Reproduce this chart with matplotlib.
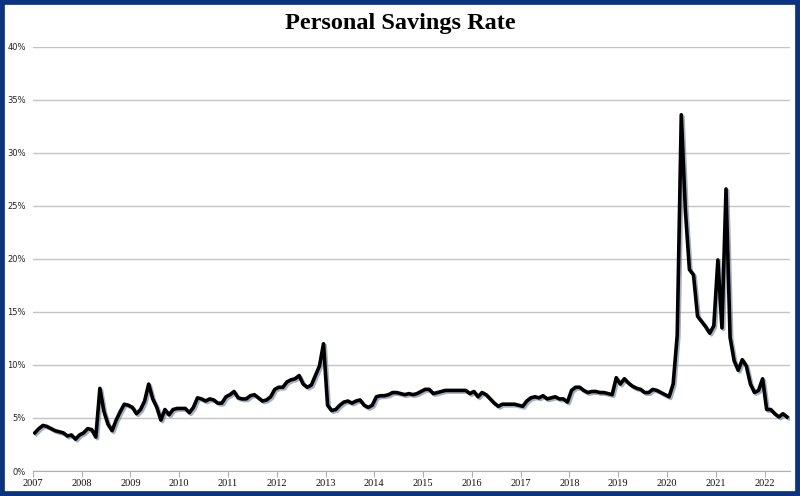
import numpy as np
import matplotlib
matplotlib.use("Agg")
import matplotlib.pyplot as plt
import matplotlib.patheffects as pe
from matplotlib.patches import Rectangle

# monthly personal savings rate, %, Jan 2007 .. Jun 2022
rate_2007 = [3.6, 4.0, 4.3, 4.2, 4.0, 3.8, 3.7, 3.6, 3.3, 3.4, 3.0, 3.4]
rate_2008 = [3.6, 4.0, 3.9, 3.2, 7.8, 5.6, 4.4, 3.8, 4.8, 5.6, 6.3, 6.2]
rate_2009 = [6.0, 5.4, 5.8, 6.6, 8.2, 6.8, 6.0, 4.8, 5.8, 5.3, 5.8, 5.9]
rate_2010 = [5.9, 5.9, 5.5, 6.0, 6.9, 6.8, 6.6, 6.8, 6.7, 6.4, 6.4, 7.0]
rate_2011 = [7.2, 7.5, 6.9, 6.8, 6.8, 7.1, 7.2, 6.9, 6.6, 6.7, 7.0, 7.7]
rate_2012 = [7.9, 7.9, 8.4, 8.6, 8.7, 9.0, 8.2, 7.9, 8.1, 9.0, 9.9, 12.0]
rate_2013 = [6.2, 5.7, 5.8, 6.2, 6.5, 6.6, 6.4, 6.6, 6.7, 6.2, 6.0, 6.2]
rate_2014 = [7.0, 7.1, 7.1, 7.2, 7.4, 7.4, 7.3, 7.2, 7.3, 7.2, 7.3, 7.5]
rate_2015 = [7.7, 7.7, 7.3, 7.4, 7.5, 7.6, 7.6, 7.6, 7.6, 7.6, 7.6, 7.3]
rate_2016 = [7.5, 7.0, 7.4, 7.2, 6.8, 6.4, 6.1, 6.3, 6.3, 6.3, 6.3, 6.2]
rate_2017 = [6.1, 6.6, 6.9, 7.0, 6.9, 7.1, 6.8, 6.9, 7.0, 6.8, 6.8, 6.5]
rate_2018 = [7.6, 7.9, 7.9, 7.6, 7.4, 7.5, 7.5, 7.4, 7.4, 7.3, 7.2, 8.8]
rate_2019 = [8.2, 8.7, 8.3, 8.0, 7.8, 7.7, 7.4, 7.4, 7.7, 7.6, 7.4, 7.2]
rate_2020 = [7.0, 8.2, 12.8, 33.6, 24.6, 19.0, 18.5, 14.6, 14.1, 13.6, 13.0, 13.7]
rate_2021 = [19.9, 13.5, 26.6, 12.6, 10.4, 9.5, 10.5, 9.9, 8.2, 7.4, 7.6, 8.7]
rate_2022 = [5.8, 5.8, 5.4, 5.1, 5.4, 5.1]

years = list(range(2007, 2023))
y_ticks = [0, 5, 10, 15, 20, 25, 30, 35, 40]

rates = (rate_2007 + rate_2008 + rate_2009 + rate_2010 + rate_2011 + rate_2012
         + rate_2013 + rate_2014 + rate_2015 + rate_2016 + rate_2017 + rate_2018
         + rate_2019 + rate_2020 + rate_2021 + rate_2022)
t = 2007 + (np.arange(len(rates)) + 0.5) / 12

fig = plt.figure(figsize=(8, 4.96), dpi=100)
ax = fig.add_axes([0.041, 0.0504, 0.9465, 0.855])

ax.plot(t, rates, color="black", lw=2.6, solid_joinstyle="round",
        path_effects=[pe.SimpleLineShadow(offset=(1.2, -1.2), shadow_color="#6a7c99", alpha=0.6),
                      pe.Normal()], zorder=3)

ax.set_xlim(2007, 2022.52)
ax.set_ylim(0, 40)
ax.set_yticks(y_ticks)
ax.set_yticklabels([f"{v}%" for v in y_ticks], fontsize=6, family="DejaVu Sans", color="#222222")
ax.set_xticks(years)
ax.set_xticklabels([str(y) for y in years], fontsize=7.5, family="Liberation Serif", color="#111111")
ax.grid(axis="y", color="#c4c4c4", lw=1)
ax.set_axisbelow(True)
for s in ["top", "right", "left"]:
    ax.spines[s].set_visible(False)
ax.spines["bottom"].set_color("#b0b0b0")
ax.tick_params(axis="y", length=0, pad=5)
ax.tick_params(axis="x", length=4, color="#b0b0b0", pad=2)

fig.text(0.5, 0.953, "Personal Savings Rate", ha="center", va="center",
         fontsize=17.5, fontweight="bold", family="Liberation Serif")

fig.patches.append(Rectangle((0, 0), 1, 1, transform=fig.transFigure, fill=False,
                             edgecolor="#0b3382", lw=7, zorder=10))

fig.savefig("out.png", dpi=100)
